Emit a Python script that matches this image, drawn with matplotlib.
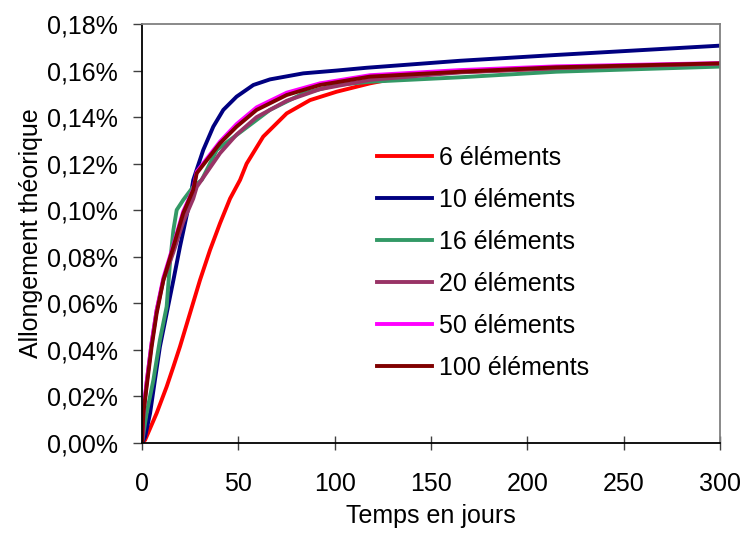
import matplotlib.pyplot as plt
from matplotlib.ticker import FuncFormatter

plt.rcParams['font.family'] = ['Liberation Sans', 'DejaVu Sans']

# valeurs (jours, allongement en %)
t_6 = [0, 1.6, 7.6, 12.8, 16.3, 19.7, 24.9, 30.1, 35.3, 40.5, 45.7, 50.9, 54.3, 62.9, 75.1, 87.2, 101, 118.3,
       132.1, 149.4, 200, 250, 300]
v_6 = [0, 0.0013, 0.0128, 0.0242, 0.0328, 0.0414, 0.0557, 0.070, 0.0829, 0.0944, 0.105, 0.113, 0.120, 0.1316,
       0.1416, 0.1473, 0.1509, 0.1545, 0.1567, 0.1588, 0.1605, 0.1615, 0.1625]

t_10 = [0, 1.6, 4.2, 6.7, 9.3, 12.8, 16.3, 19.7, 24.9, 26.6, 31.8, 37, 42.2, 49.1, 57.8, 66.4, 83.7, 101, 116.6,
        165, 215, 300]
v_10 = [0, 0.0027, 0.0128, 0.027, 0.0414, 0.0557, 0.070, 0.0843, 0.1044, 0.113, 0.1259, 0.1359, 0.1431, 0.1488,
        0.1538, 0.1562, 0.1588, 0.160, 0.1612, 0.1642, 0.1667, 0.1707]

t_16 = [0, 2.4, 5.9, 9.3, 12.8, 14.5, 16.3, 18, 21.4, 26.6, 31, 38.8, 52.6, 66.4, 83.7, 101, 118.3, 165, 215, 300]
v_16 = [0, 0.0128, 0.027, 0.0443, 0.0586, 0.0772, 0.0915, 0.1001, 0.1044, 0.1101, 0.113, 0.1259, 0.1345, 0.1431,
        0.1502, 0.1538, 0.1552, 0.1571, 0.1595, 0.1617]

t_20 = [0, 0.7, 2.4, 5, 7.6, 11.1, 16.3, 21.4, 26.6, 28.4, 40.5, 49.1, 59.5, 75.1, 92.4, 118.3, 165, 215, 300]
v_20 = [0, 0.012, 0.026, 0.043, 0.057, 0.070, 0.082, 0.095, 0.105, 0.110, 0.1245, 0.1325, 0.140, 0.147, 0.152,
        0.156, 0.1592, 0.161, 0.163]

t_50 = [0, 0.7, 2.4, 5, 7.6, 11.1, 16.3, 21.4, 26.6, 28.4, 40.5, 49.1, 59.5, 75.1, 92.4, 118.3, 165, 215, 300]
v_50 = [0, 0.014, 0.026, 0.043, 0.057, 0.071, 0.085, 0.0995, 0.109, 0.1165, 0.1295, 0.137, 0.1442, 0.1505, 0.1545,
        0.158, 0.1602, 0.1618, 0.1632]

t_100 = [0, 0.7, 2.4, 5, 7.6, 11.1, 16.3, 21.4, 26.6, 28.4, 40.5, 49.1, 59.5, 75.1, 92.4, 118.3, 165, 215, 300]
v_100 = [0, 0.0128, 0.0242, 0.0414, 0.0557, 0.070, 0.0843, 0.0987, 0.1087, 0.1159, 0.1288, 0.1359, 0.1431, 0.1495,
         0.1538, 0.1574, 0.1595, 0.1614, 0.1631]

series = [
    ('6 éléments', t_6, v_6, '#FF0000'),
    ('10 éléments', t_10, v_10, '#000080'),
    ('16 éléments', t_16, v_16, '#339966'),
    ('20 éléments', t_20, v_20, '#993366'),
    ('50 éléments', t_50, v_50, '#FF00FF'),
    ('100 éléments', t_100, v_100, '#800000'),
]

fig = plt.figure(figsize=(7.42, 5.34), dpi=100)
ax = fig.add_axes([142 / 742, 91 / 534, 578 / 742, 419 / 534])

for label, t, v, c in series:
    ax.plot(t, v, color=c, lw=2.8, label=label, solid_joinstyle='round')

ax.set_xlim(0, 300)
ax.set_ylim(0, 0.18)
ax.set_xticks(range(0, 301, 50))
ax.set_yticks([i * 0.02 for i in range(10)])
ax.yaxis.set_major_formatter(FuncFormatter(lambda y, p: f'{y:.2f}%'.replace('.', ',')))

for s in ['left', 'bottom']:
    ax.spines[s].set_color('black')
    ax.spines[s].set_linewidth(1.3)
for s in ['top', 'right']:
    ax.spines[s].set_color('#808080')
    ax.spines[s].set_linewidth(1.3)

ax.tick_params(axis='y', direction='out', length=6.5, width=1, color='#404040', labelsize=18, pad=10.8)
ax.tick_params(axis='x', direction='inout', length=10, width=1, color='#404040', labelsize=18, pad=16)

ax.set_xlabel('Temps en jours', fontsize=18, labelpad=6)
ax.set_ylabel('Allongement théorique', fontsize=18, labelpad=3)

ax.legend(loc='upper left', bbox_to_anchor=(377 / 742, 1 - 146 / 534), bbox_transform=fig.transFigure,
          frameon=False, fontsize=18, handlelength=2.2, handletextpad=0.28,
          labelspacing=0.72, borderpad=0, borderaxespad=0)

fig.savefig('out.png', dpi=100)
